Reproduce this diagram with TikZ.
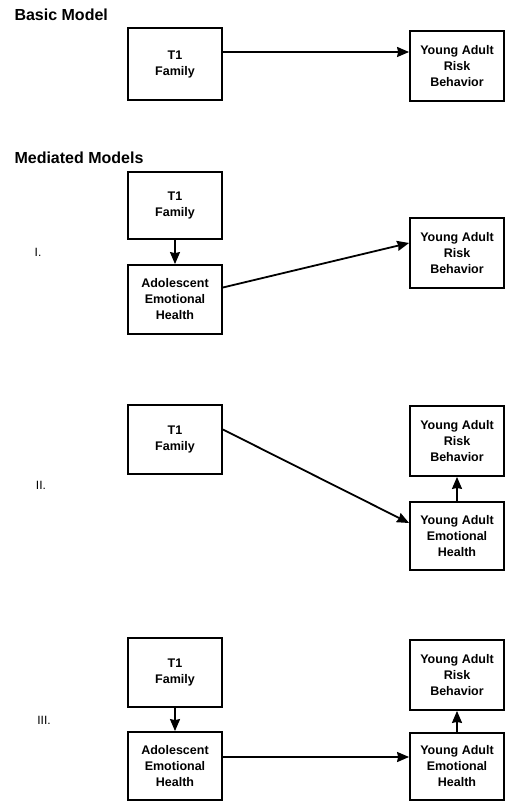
\documentclass[tikz,border=0pt]{standalone}
\usepackage{fontspec}
\setmainfont{Liberation Sans}
\usetikzlibrary{arrows.meta}
\tikzset{
  box/.style={draw,line width=1.8pt,minimum width=94pt,minimum height=70pt,
    inner sep=2pt,align=center,font=\fontsize{12.5}{16}\selectfont\bfseries},
  title/.style={anchor=west,font=\fontsize{16}{18}\selectfont\bfseries},
  num/.style={font=\fontsize{12}{14}\selectfont},
  link/.style={line width=1.8pt,-{Stealth[length=12pt,width=10pt,inset=1pt]}}
}
\begin{document}
\begin{tikzpicture}[x=1pt,y=-1pt]
    \useasboundingbox (0,0) rectangle (509,802);
    % basic model
    \node[title] (basic) at (11,15) {Basic Model};
    \node[box,minimum height=72pt] (fam0) at (175,64) {T1\\Family};
    \node[box] (ya0) at (457,66) {Young Adult\\Risk\\Behavior};
    \draw[link] ([yshift=12pt]fam0.east) -- ([yshift=14pt]ya0.west);
    % mediated models
    \node[title] (mediated) at (11,158) {Mediated Models};
    % I.
    \node[num] (one) at (38,252) {I.};
    \node[box,minimum height=67pt] (fam1) at (175,205.5) {T1\\Family};
    \node[box,minimum height=69pt] (adol1) at (175,299.5) {Adolescent\\Emotional\\Health};
    \node[box] (ya1) at (457,253) {Young Adult\\Risk\\Behavior};
    \draw[link] (fam1) -- (adol1);
    \draw[link] ([yshift=12pt]adol1.east) -- ([yshift=10pt]ya1.west);
    % II.
    \node[num] (two) at (41,485) {II.};
    \node[box,minimum height=69pt] (fam2) at (175,439.5) {T1\\Family};
    \node[box] (yarisk2) at (457,441) {Young Adult\\Risk\\Behavior};
    \node[box,minimum height=68pt] (yaemo2) at (457,536) {Young Adult\\Emotional\\Health};
    \draw[link] ([yshift=10pt]fam2.east) -- ([yshift=13pt]yaemo2.west);
    \draw[link] (yaemo2) -- (yarisk2);
    % III.
    \node[num] (three) at (44,720) {III.};
    \node[box,minimum height=69pt] (fam3) at (175,672.5) {T1\\Family};
    \node[box,minimum height=68pt] (adol3) at (175,766) {Adolescent\\Emotional\\Health};
    \node[box] (yarisk3) at (457,675) {Young Adult\\Risk\\Behavior};
    \node[box,minimum height=67pt] (yaemo3) at (457,766.5) {Young Adult\\Emotional\\Health};
    \draw[link] (fam3) -- (adol3);
    \draw[link] ([yshift=9pt]adol3.east) -- ([yshift=9pt]adol3.east -| yaemo3.west);
    \draw[link] (yaemo3) -- (yarisk3);
  \end{tikzpicture}
\end{document}
